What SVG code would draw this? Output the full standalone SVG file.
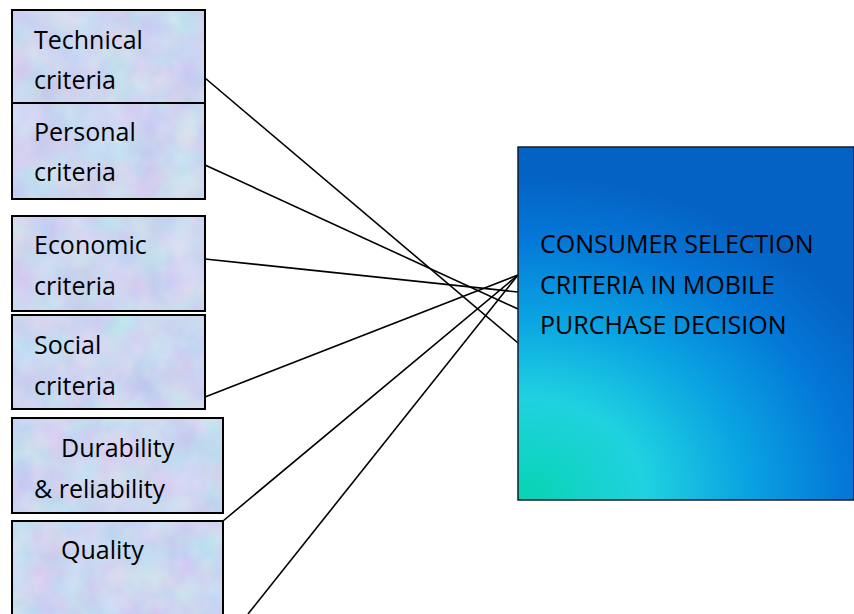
<svg xmlns="http://www.w3.org/2000/svg" width="854" height="614" viewBox="0 0 854 614">
<style>
  .box { stroke: #000; stroke-width: 2; }
  .lbl { font-family: "Open Sans", "Noto Sans", "Liberation Sans", sans-serif; font-size: 25px; fill: #000; }
  .conn line { stroke: #000; stroke-width: 1.6; fill: none; }
</style>
<defs>
  <filter id="tex" x="0" y="0" width="1" height="1" color-interpolation-filters="sRGB">
    <feTurbulence type="fractalNoise" baseFrequency="0.03" numOctaves="3" seed="7" result="n"/>
    <feColorMatrix in="n" type="matrix" values="0.2 0 0 0 0.7  0 0.16 0 0 0.76  0 0 0.06 0 0.91  0 0 0 0 1" result="c"/>
    <feComposite in="c" in2="SourceGraphic" operator="in"/>
  </filter>
  <radialGradient id="big" gradientUnits="userSpaceOnUse" cx="0" cy="0" r="1" fx="0" fy="0" gradientTransform="translate(525 495) scale(400 320)">
    <stop offset="0" stop-color="#08d4b4"/>
    <stop offset="0.3" stop-color="#20d2e0"/>
    <stop offset="0.55" stop-color="#0aa4e2"/>
    <stop offset="0.8" stop-color="#0478d8"/>
    <stop offset="1" stop-color="#0462c4"/>
  </radialGradient>
</defs>
<rect width="854" height="614" fill="#fff"/>

<g id="connectors" class="conn">
  <line x1="205" y1="78" x2="518" y2="343"/>
  <line x1="205" y1="165" x2="518" y2="309"/>
  <line x1="205" y1="259" x2="518" y2="292"/>
  <line x1="205" y1="397" x2="518" y2="275"/>
  <line x1="223" y1="521" x2="518" y2="275"/>
  <line x1="248" y1="614" x2="518" y2="275"/>
</g>

<g id="technical">
  <rect x="12" y="10" width="193" height="93" fill="#cfdbf2" filter="url(#tex)"/>
  <rect x="12" y="10" width="193" height="93" fill="none" class="box"/>
  <text class="lbl" x="34" y="49">Technical</text>
  <text class="lbl" x="34" y="89">criteria</text>
</g>
<g id="personal">
  <rect x="12" y="103" width="193" height="96" fill="#cfdbf2" filter="url(#tex)"/>
  <rect x="12" y="103" width="193" height="96" fill="none" class="box"/>
  <text class="lbl" x="34" y="141">Personal</text>
  <text class="lbl" x="34" y="181">criteria</text>
</g>
<g id="economic">
  <rect x="12" y="216" width="193" height="95" fill="#cfdbf2" filter="url(#tex)"/>
  <rect x="12" y="216" width="193" height="95" fill="none" class="box"/>
  <text class="lbl" x="34" y="254">Economic</text>
  <text class="lbl" x="34" y="295">criteria</text>
</g>
<g id="social">
  <rect x="12" y="315" width="193" height="94" fill="#cfdbf2" filter="url(#tex)"/>
  <rect x="12" y="315" width="193" height="94" fill="none" class="box"/>
  <text class="lbl" x="34" y="354">Social</text>
  <text class="lbl" x="34" y="395">criteria</text>
</g>
<g id="durability">
  <rect x="12" y="418" width="211" height="95" fill="#cfdbf2" filter="url(#tex)"/>
  <rect x="12" y="418" width="211" height="95" fill="none" class="box"/>
  <text class="lbl" x="61" y="457">Durability</text>
  <text class="lbl" x="34" y="498">&amp; reliability</text>
</g>
<g id="quality">
  <rect x="12" y="521" width="211" height="100" fill="#cfdbf2" filter="url(#tex)"/>
  <rect x="12" y="521" width="211" height="100" fill="none" class="box"/>
  <text class="lbl" x="61" y="559">Quality</text>
</g>

<g id="decision">
  <rect x="518" y="147" width="336" height="353" fill="url(#big)" stroke="#1a1a2a" stroke-width="1.5"/>
  <text class="lbl" x="540" y="253">CONSUMER SELECTION</text>
  <text class="lbl" x="540" y="294">CRITERIA IN MOBILE</text>
  <text class="lbl" x="540" y="334">PURCHASE DECISION</text>
</g>
</svg>
